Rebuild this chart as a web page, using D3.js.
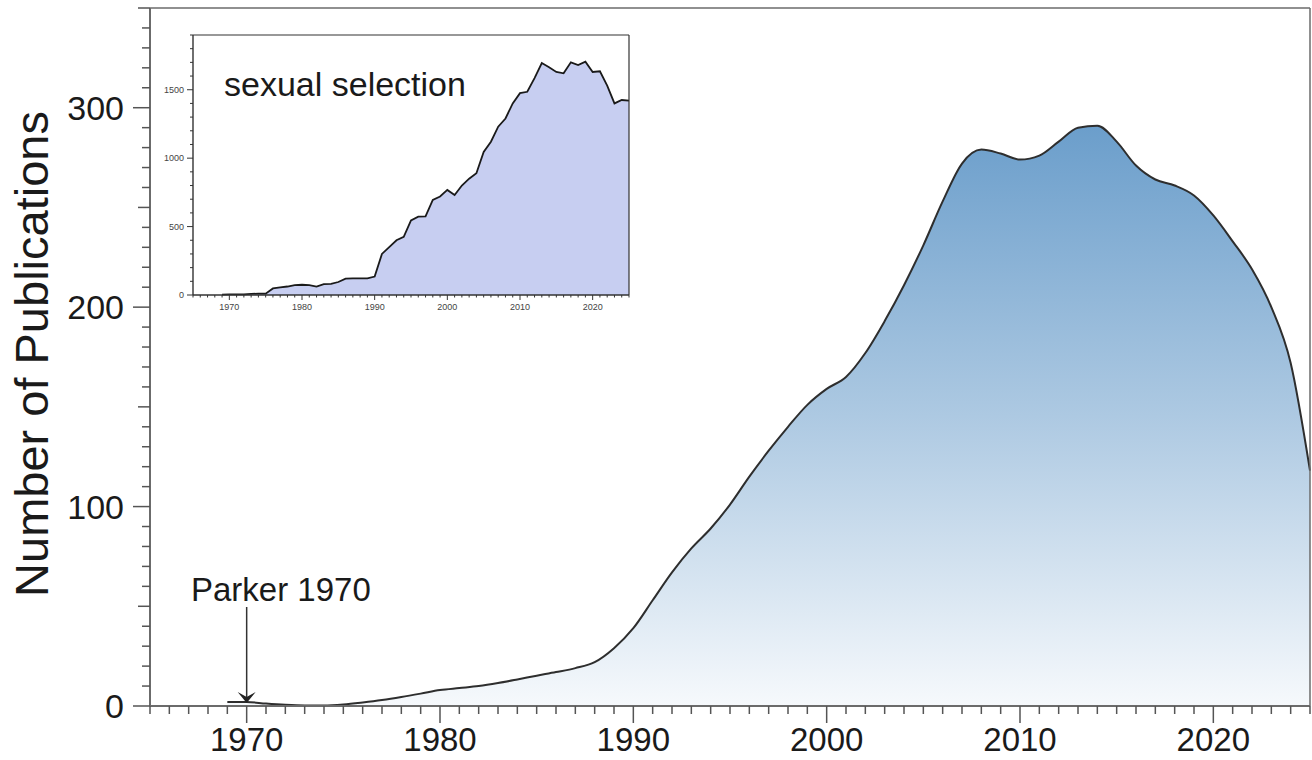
<!DOCTYPE html>
<html>
<head>
<meta charset="utf-8">
<script src="https://cdn.jsdelivr.net/npm/d3@7"></script>
<style>
  html, body { margin: 0; padding: 0; background: #ffffff; }
  svg { display: block; }
  text { font-family: "Liberation Sans", Arial, Helvetica, sans-serif; }
</style>
</head>
<body>
<svg id="chart" width="1312" height="760"></svg>
<script>
// ---------- data ----------
const mainYears = [1969,1970,1971,1972,1973,1974,1975,1976,1977,1978,1979,1980,1981,1982,1983,1984,1985,1986,1987,1988,1989,1990,1991,1992,1993,1994,1995,1996,1997,1998,1999,2000,2001,2002,2003,2004,2005,2006,2007,2008,2009,2010,2011,2012,2013,2014,2015,2016,2017,2018,2019,2020,2021,2022,2023,2024,2025];
const mainValues = [2,2,1.2,0.6,0.3,0.3,0.8,1.8,3,4.5,6.2,8,9,10,11.5,13.3,15.2,17,19,22,29,39,53,67,79,89,101,115,128,140,151,159,165,177,193,211,231,253,272,279,277,274,276,283,290,291,283,271,264,261,256,246,233,219,200,172,118];

const insetYears = [1969,1970,1971,1972,1973,1974,1975,1976,1977,1978,1979,1980,1981,1982,1983,1984,1985,1986,1987,1988,1989,1990,1991,1992,1993,1994,1995,1996,1997,1998,1999,2000,2001,2002,2003,2004,2005,2006,2007,2008,2009,2010,2011,2012,2013,2014,2015,2016,2017,2018,2019,2020,2021,2022,2023,2024,2025];
const insetValues = [3,5,5,5,8,10,10,48,55,62,72,75,72,62,80,82,95,120,122,122,122,135,300,350,400,425,545,572,575,695,720,768,730,800,850,890,1045,1120,1230,1290,1400,1475,1485,1585,1695,1665,1630,1620,1700,1680,1705,1630,1635,1530,1400,1425,1420];

const mainYTicks = [0, 100, 200, 300];
const mainXTicks = [1970, 1980, 1990, 2000, 2010, 2020];
const insetYTicks = [0, 500, 1000, 1500];
const insetXTicks = [1970, 1980, 1990, 2000, 2010, 2020];
const yTitle = "Number of Publications";
const insetTitle = "sexual selection";
const annotation = {label: "Parker 1970", year: 1970};

// ---------- setup ----------
const svg = d3.select("#chart");
const axisCol = "#6b6b6b";
const tickCol = "#555";
const textCol = "#1a1a1a";

const L = 150, R = 1310, T = 8, B = 706;
const x = d3.scaleLinear().domain([1965, 2025]).range([L, R]);
const y = d3.scaleLinear().domain([0, 350]).range([B, T]);

const mainData = mainYears.map((yr, i) => ({yr, v: mainValues[i]}));

// gradient
const defs = svg.append("defs");
const grad = defs.append("linearGradient")
  .attr("id", "blueGrad")
  .attr("gradientUnits", "userSpaceOnUse")
  .attr("x1", 0).attr("x2", 0)
  .attr("y1", y(d3.max(mainValues))).attr("y2", y(0));
grad.append("stop").attr("offset", "0%").attr("stop-color", "#6b9ecb");
grad.append("stop").attr("offset", "50%").attr("stop-color", "#adc9e2");
grad.append("stop").attr("offset", "100%").attr("stop-color", "#f6f9fc");

// area
const area = d3.area().curve(d3.curveMonotoneX)
  .x(d => x(d.yr)).y0(y(0)).y1(d => y(d.v));
const line = d3.line().curve(d3.curveMonotoneX)
  .x(d => x(d.yr)).y(d => y(d.v));

svg.append("path").datum(mainData).attr("d", area).attr("fill", "url(#blueGrad)");
svg.append("path").datum(mainData).attr("d", line)
  .attr("fill", "none").attr("stroke", "#2e2e2e").attr("stroke-width", 2);

// frame (top and right)
svg.append("line").attr("x1", L).attr("x2", R).attr("y1", T).attr("y2", T)
  .attr("stroke", axisCol).attr("stroke-width", 1.5);
svg.append("line").attr("x1", R).attr("x2", R).attr("y1", T).attr("y2", B)
  .attr("stroke", axisCol).attr("stroke-width", 1.5);

// y axis
const gy = svg.append("g");
gy.append("line").attr("x1", L).attr("x2", L).attr("y1", T).attr("y2", B)
  .attr("stroke", axisCol).attr("stroke-width", 2);
d3.range(0, 351, 10).forEach(v => {
  const len = (v % 100 === 0) ? 17 : (v % 50 === 0 ? 12 : 8);
  gy.append("line").attr("x1", L - len).attr("x2", L).attr("y1", y(v)).attr("y2", y(v))
    .attr("stroke", tickCol).attr("stroke-width", 1.5);
});
mainYTicks.forEach(v => {
  gy.append("text").attr("x", L - 26).attr("y", y(v)).attr("dy", "0.36em")
    .attr("text-anchor", "end").attr("font-size", 34).attr("fill", textCol).text(v);
});

// x axis
const gx = svg.append("g");
gx.append("line").attr("x1", L).attr("x2", R).attr("y1", B).attr("y2", B)
  .attr("stroke", axisCol).attr("stroke-width", 2);
d3.range(1965, 2026, 1).forEach(yr => {
  const len = (yr % 10 === 0) ? 17 : 8;
  gx.append("line").attr("x1", x(yr)).attr("x2", x(yr)).attr("y1", B).attr("y2", B + len)
    .attr("stroke", tickCol).attr("stroke-width", 1.5);
});
mainXTicks.forEach(yr => {
  gx.append("text").attr("x", x(yr)).attr("y", 751)
    .attr("text-anchor", "middle").attr("font-size", 33).attr("fill", textCol).text(yr);
});

// y title
svg.append("text")
  .attr("transform", `translate(48, 354) rotate(-90)`)
  .attr("text-anchor", "middle").attr("font-size", 47).attr("fill", textCol)
  .text(yTitle);

// annotation
const annV = mainValues[mainYears.indexOf(annotation.year)];
const ax = x(annotation.year), tipY = y(annV) + 1;
svg.append("line").attr("x1", ax).attr("x2", ax).attr("y1", 607).attr("y2", tipY - 4)
  .attr("stroke", "#333").attr("stroke-width", 1.5);
svg.append("path")
  .attr("d", `M${ax},${tipY} L${ax - 9},${tipY - 11} L${ax},${tipY - 6} L${ax + 9},${tipY - 11} Z`)
  .attr("fill", "#222");
svg.append("text").attr("x", 191).attr("y", 601)
  .attr("font-size", 33).attr("fill", textCol).text(annotation.label);

// ---------- inset ----------
const iL = 193, iR = 629, iT = 35, iB = 295;
const ix = d3.scaleLinear().domain([1965, 2025]).range([iL, iR]);
const iy = d3.scaleLinear().domain([0, 1900]).range([iB, iT]);
const inset = svg.append("g");
inset.append("rect").attr("x", iL).attr("y", iT).attr("width", iR - iL).attr("height", iB - iT)
  .attr("fill", "#ffffff");

const insetData = insetYears.map((yr, i) => ({yr, v: insetValues[i]}));
const iArea = d3.area().x(d => ix(d.yr)).y0(iy(0)).y1(d => iy(d.v));
const iLine = d3.line().x(d => ix(d.yr)).y(d => iy(d.v));
inset.append("path").datum(insetData).attr("d", iArea).attr("fill", "#c7cef1");
inset.append("path").datum(insetData).attr("d", iLine)
  .attr("fill", "none").attr("stroke", "#1a1a1a").attr("stroke-width", 1.8);

// inset frame
inset.append("line").attr("x1", iL).attr("x2", iR).attr("y1", iT).attr("y2", iT)
  .attr("stroke", "#333").attr("stroke-width", 1.2);
inset.append("line").attr("x1", iR).attr("x2", iR).attr("y1", iT).attr("y2", iB)
  .attr("stroke", "#333").attr("stroke-width", 1.2);
inset.append("line").attr("x1", iL).attr("x2", iL).attr("y1", iT).attr("y2", iB)
  .attr("stroke", "#333").attr("stroke-width", 1.4);
inset.append("line").attr("x1", iL).attr("x2", iR).attr("y1", iB).attr("y2", iB)
  .attr("stroke", "#333").attr("stroke-width", 1.4);

d3.range(0, 1901, 100).forEach(v => {
  const len = (v % 500 === 0) ? 6 : 3;
  inset.append("line").attr("x1", iL - len).attr("x2", iL).attr("y1", iy(v)).attr("y2", iy(v))
    .attr("stroke", "#333").attr("stroke-width", 1);
});
insetYTicks.forEach(v => {
  inset.append("text").attr("x", iL - 9).attr("y", iy(v)).attr("dy", "0.35em")
    .attr("text-anchor", "end").attr("font-size", 9).attr("fill", "#444").text(v);
});
d3.range(1965, 2026, 1).forEach(yr => {
  const len = (yr % 10 === 0) ? 5 : 2.5;
  inset.append("line").attr("x1", ix(yr)).attr("x2", ix(yr)).attr("y1", iB).attr("y2", iB + len)
    .attr("stroke", "#333").attr("stroke-width", 1);
});
insetXTicks.forEach(yr => {
  inset.append("text").attr("x", ix(yr)).attr("y", 310)
    .attr("text-anchor", "middle").attr("font-size", 9).attr("fill", "#444").text(yr);
});
inset.append("text").attr("x", 224).attr("y", 96)
  .attr("font-size", 34).attr("fill", textCol).text(insetTitle);
</script>
</body>
</html>
